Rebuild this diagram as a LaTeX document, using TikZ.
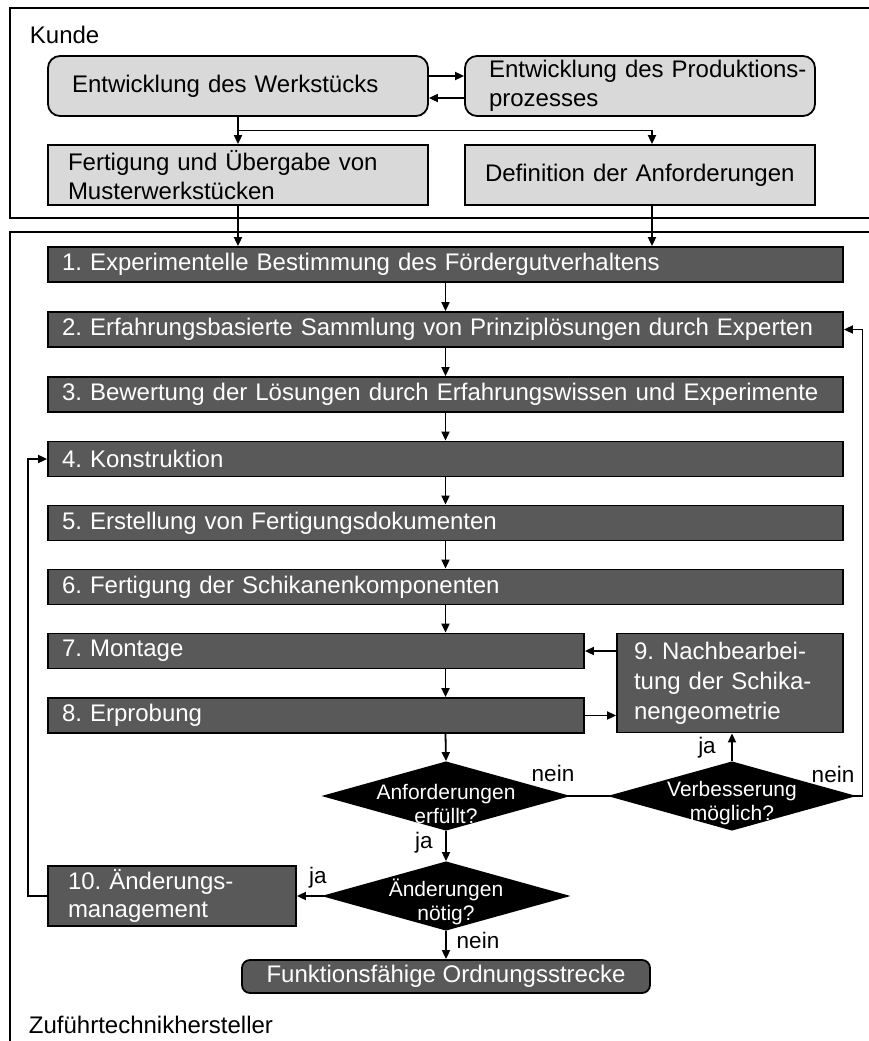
\documentclass[tikz,border=0pt]{standalone}
\usepackage{fontspec}
\setmainfont{Liberation Sans}
\usetikzlibrary{arrows.meta,shapes.geometric,calc}
\frenchspacing

\definecolor{boxdark}{RGB}{89,89,89}
\definecolor{boxlight}{RGB}{217,217,217}

\begin{document}
\begin{tikzpicture}[x=1pt,y=-1pt,line width=1.8pt,
  >={Triangle[length=9pt,width=8pt]},
  txt/.style={font=\fontsize{24}{29}\selectfont},
  lbl/.style={font=\fontsize{22.5}{26}\selectfont, inner sep=0pt},
  light/.style={txt, draw, fill=boxlight, rounded corners=12pt,
    minimum height=60pt, inner xsep=24pt, inner ysep=0pt,
    align=left, text width=#1},
  plain/.style={txt, draw, fill=boxlight,
    minimum height=60pt, inner xsep=20pt, inner ysep=0pt,
    align=left, text width=#1},
  proc/.style={txt, draw, fill=boxdark, text=white,
    minimum height=35pt, inner xsep=14pt, inner ysep=0pt,
    align=left, text width=#1},
  decision/.style={diamond, draw, fill=black, inner sep=0pt,
    minimum width=243pt, minimum height=68pt},
  dtext/.style={font=\fontsize{21}{24}\selectfont, text=white,
    align=center, inner sep=0pt},
]
\useasboundingbox (0,0) rectangle (869,1041);

% swimlane frames
\draw (10,8) rectangle (900,218);
\draw (10,232) rectangle (900,1070);
\node[txt, anchor=west, inner sep=0pt] (kunde) at (29,35) {Kunde};
\node[txt, anchor=west, inner sep=0pt] (herst) at (28,1025) {Zuführtechnikhersteller};

% customer side
\node[light=332pt] (A) at (238,86) {\mbox{Entwicklung des Werkstücks}};
\node[light=302pt] (B) at (640,86) {\mbox{Entwicklung des Produktions-}\\\mbox{prozesses}};
\node[plain=340pt] (C) at (238,175) {\mbox{Fertigung und Übergabe von}\\\mbox{Musterwerkstücken}};
\node[plain=310pt] (D) at (640,175) {\mbox{Definition der Anforderungen}};

\draw[->] ([yshift=10pt]A.east) -- ([yshift=10pt]B.west);
\draw[->] ([yshift=-12pt]B.west) -- ([yshift=-12pt]A.east);
\coordinate (J) at ($(A.south)!0.5!(C.north)$);
\draw[->] (A.south) -- (C.north);
\draw[->] (J) -| ([xshift=12pt]D.north);

% manufacturer process
\node[proc=767pt] (P1) at (445.5,264.5) {\mbox{1. Experimentelle Bestimmung des Fördergutverhaltens}};
\node[proc=767pt] (P2) at (445.5,329.5) {\mbox{2. Erfahrungsbasierte Sammlung von Prinziplösungen durch Experten}};
\node[proc=767pt] (P3) at (445.5,394.5) {\mbox{3. Bewertung der Lösungen durch Erfahrungswissen und Experimente}};
\node[proc=767pt] (P4) at (445.5,459) {4. Konstruktion};
\node[proc=767pt] (P5) at (445.5,523) {5. Erstellung von Fertigungsdokumenten};
\node[proc=767pt] (P6) at (445.5,587) {6. Fertigung der Schikanenkomponenten};
\node[proc=508pt] (P7) at (316,651) {7. Montage};
\node[proc=508pt] (P8) at (316,715.5) {8. Erprobung};
\node[proc=192pt, minimum height=99pt, inner xsep=17pt, font=\fontsize{24}{30}\selectfont] (P9) at (730,683)
  {\mbox{9. Nachbearbei-}\\\mbox{tung der Schika-}\\\mbox{nengeometrie}};
\node[proc=208pt, minimum height=60pt, inner xsep=20pt, font=\fontsize{24}{28}\selectfont] (P10) at (172,896)
  {\mbox{10. Änderungs-}\\\mbox{management}};

\node[decision] (D1) at (446,796) {};
\node[dtext] (D1t) at (446,804) {Anforderungen\\erfüllt?};
\node[decision] (D2) at (732,796) {};
\node[dtext] (D2t) at (732,803) {Verbesserung\\möglich?};
\node[decision] (D3) at (446,896) {};
\node[dtext] (D3t) at (446,902) {Änderungen\\nötig?};

\node[txt, draw, fill=boxdark, text=white, rounded corners=8pt,
  minimum width=408pt, minimum height=33pt, inner ysep=0pt] (F) at (446,976.5)
  {Funktionsfähige Ordnungsstrecke};

% flow
\draw[->] (C.south) -- (C.south |- P1.north);
\draw[->] ([xshift=12pt]D.south) -- ([xshift=12pt]D.south |- P1.north);
\draw[->] (P1) -- (P2);
\draw[->] (P2) -- (P3);
\draw[->] (P3) -- (P4);
\draw[->] (P4) -- (P5);
\draw[->] (P5) -- (P6);
\draw[->] (P6.south) -- (P6.south |- P7.north);
\draw[->] (P6.south |- P7.south) -- (P6.south |- P8.north);
\draw[->] (P6.south |- P8.south) -- (D1.north);
\draw[->] (P9.west |- P7.east) -- (P7.east);
\draw[->] (P8.east) -- (P9.west |- P8.east);
\draw (D1.east) -- (D2.west);
\draw[->] (D2.north) -- (D2.north |- P9.south);
\draw[->] (D2.east) -- ++(8,0) |- (P2.east);
\draw[->] (D1.south) -- (D3.north);
\draw[->] (D3.west) -- (P10.east);
\draw[->] (P10.west) -- ++(-19,0) |- (P4.west);
\draw[->] (D3.south) -- (F.north);

% branch labels
\node[lbl] (n1) at (553,773) {nein};
\node[lbl] (n2) at (833,774) {nein};
\node[lbl] (y1) at (707,748) {ja};
\node[lbl] (y2) at (424,843) {ja};
\node[lbl] (y3) at (318,878) {ja};
\node[lbl] (n3) at (478,940) {nein};
\end{tikzpicture}
\end{document}
